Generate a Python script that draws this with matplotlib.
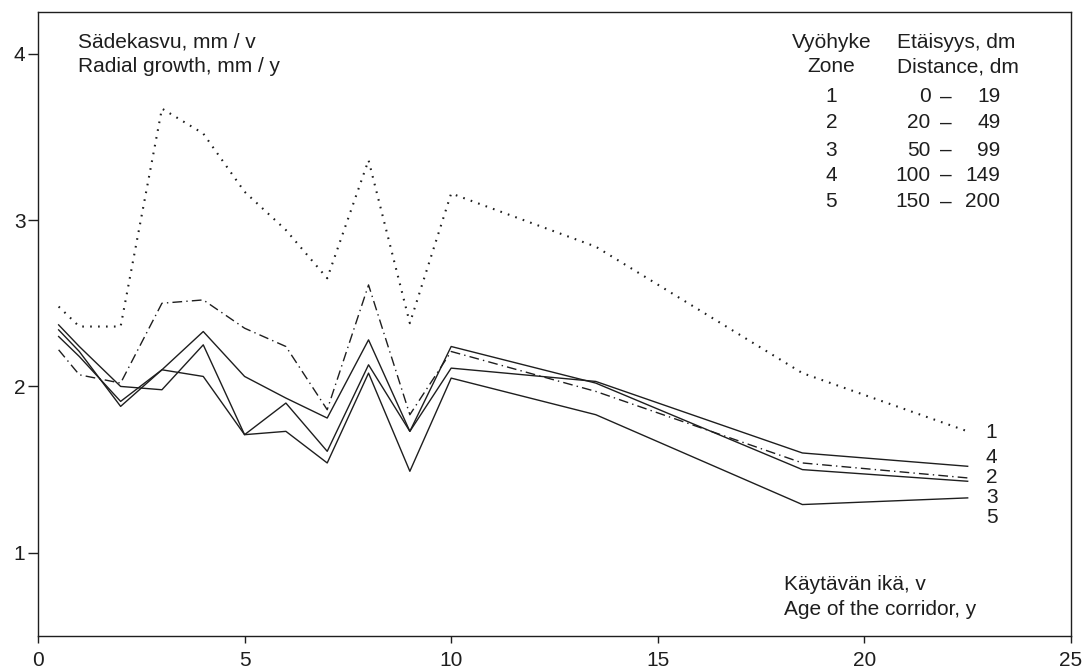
import matplotlib
matplotlib.use("Agg")
import matplotlib.pyplot as plt

plt.rcParams['font.family'] = ['Liberation Sans', 'DejaVu Sans']

# Age of the corridor, years
age = [0.5, 1, 2, 3, 4, 5, 6, 7, 8, 9, 10, 13.5, 18.5, 22.5]

# Radial growth, mm / y, per zone
zone1 = [2.48, 2.36, 2.36, 3.67, 3.52, 3.17, 2.94, 2.65, 3.36, 2.38, 3.16, 2.84, 2.08, 1.73]
zone2 = [2.22, 2.07, 2.02, 2.50, 2.52, 2.35, 2.24, 1.86, 2.61, 1.83, 2.21, 1.97, 1.54, 1.45]
zone3 = [2.34, 2.21, 1.88, 2.10, 2.33, 2.06, 1.93, 1.81, 2.28, 1.73, 2.24, 2.02, 1.50, 1.43]
zone4 = [2.37, 2.24, 2.00, 1.98, 2.25, 1.71, 1.90, 1.61, 2.13, 1.73, 2.11, 2.03, 1.60, 1.52]
zone5 = [2.30, 2.18, 1.91, 2.10, 2.06, 1.71, 1.73, 1.54, 2.08, 1.49, 2.05, 1.83, 1.29, 1.33]

zones = ['1', '2', '3', '4', '5']
dist_lo = ['0', '20', '50', '100', '150']
dist_hi = ['19', '49', '99', '149', '200']

# end labels: (label, y position)
end_labels = [('1', 1.725), ('4', 1.574), ('2', 1.454), ('3', 1.333), ('5', 1.213)]

ink = '#1e1e1e'
fs = 15

fig = plt.figure(figsize=(10.82, 6.72), dpi=100)
ax = fig.add_axes([0.0351, 0.0536, 0.9547, 0.9284])

ax.plot(age, zone1, color=ink, lw=1.5, linestyle=(0, (0.8, 3.0)))
ax.plot(age, zone2, color=ink, lw=1.0, linestyle=(0, (7, 3, 1, 3)))
ax.plot(age, zone3, color=ink, lw=1.0)
ax.plot(age, zone4, color=ink, lw=1.0)
ax.plot(age, zone5, color=ink, lw=1.0)

ax.set_xlim(0, 25)
ax.set_ylim(0.5, 4.25)
ax.set_xticks([0, 5, 10, 15, 20, 25])
ax.set_yticks([1, 2, 3, 4])
ax.tick_params(axis='x', direction='out', length=5, width=1, pad=6,
               labelsize=fs, colors=ink)
ax.tick_params(axis='y', direction='out', length=7, width=1, pad=2,
               labelsize=fs, colors=ink)
for s in ax.spines.values():
    s.set_color(ink)
    s.set_linewidth(1.0)

# axis titles inside the frame
ax.text(0.97, 4.07, 'Sädekasvu, mm / v', fontsize=fs, color=ink, va='center')
ax.text(0.97, 3.92, 'Radial growth, mm / y', fontsize=fs, color=ink, va='center')
ax.text(18.05, 0.807, 'Käytävän ikä, v', fontsize=fs, color=ink, va='center')
ax.text(18.05, 0.657, 'Age of the corridor, y', fontsize=fs, color=ink, va='center')

# zone / distance table
ax.text(19.2, 4.07, 'Vyöhyke', fontsize=fs, color=ink, va='center', ha='center')
ax.text(19.2, 3.92, 'Zone', fontsize=fs, color=ink, va='center', ha='center')
ax.text(20.8, 4.07, 'Etäisyys, dm', fontsize=fs, color=ink, va='center')
ax.text(20.8, 3.92, 'Distance, dm', fontsize=fs, color=ink, va='center')
row_y = [3.74, 3.584, 3.42, 3.27, 3.11]
for z, lo, hi, yy in zip(zones, dist_lo, dist_hi, row_y):
    ax.text(19.2, yy, z, fontsize=fs, color=ink, va='center', ha='center')
    ax.text(21.6, yy, lo, fontsize=fs, color=ink, va='center', ha='right')
    ax.text(21.98, yy, '–', fontsize=fs, color=ink, va='center', ha='center')
    ax.text(23.29, yy, hi, fontsize=fs, color=ink, va='center', ha='right')

for lab, yy in end_labels:
    ax.text(23.08, yy, lab, fontsize=fs, color=ink, va='center', ha='center')

fig.savefig('out.png', dpi=100)
